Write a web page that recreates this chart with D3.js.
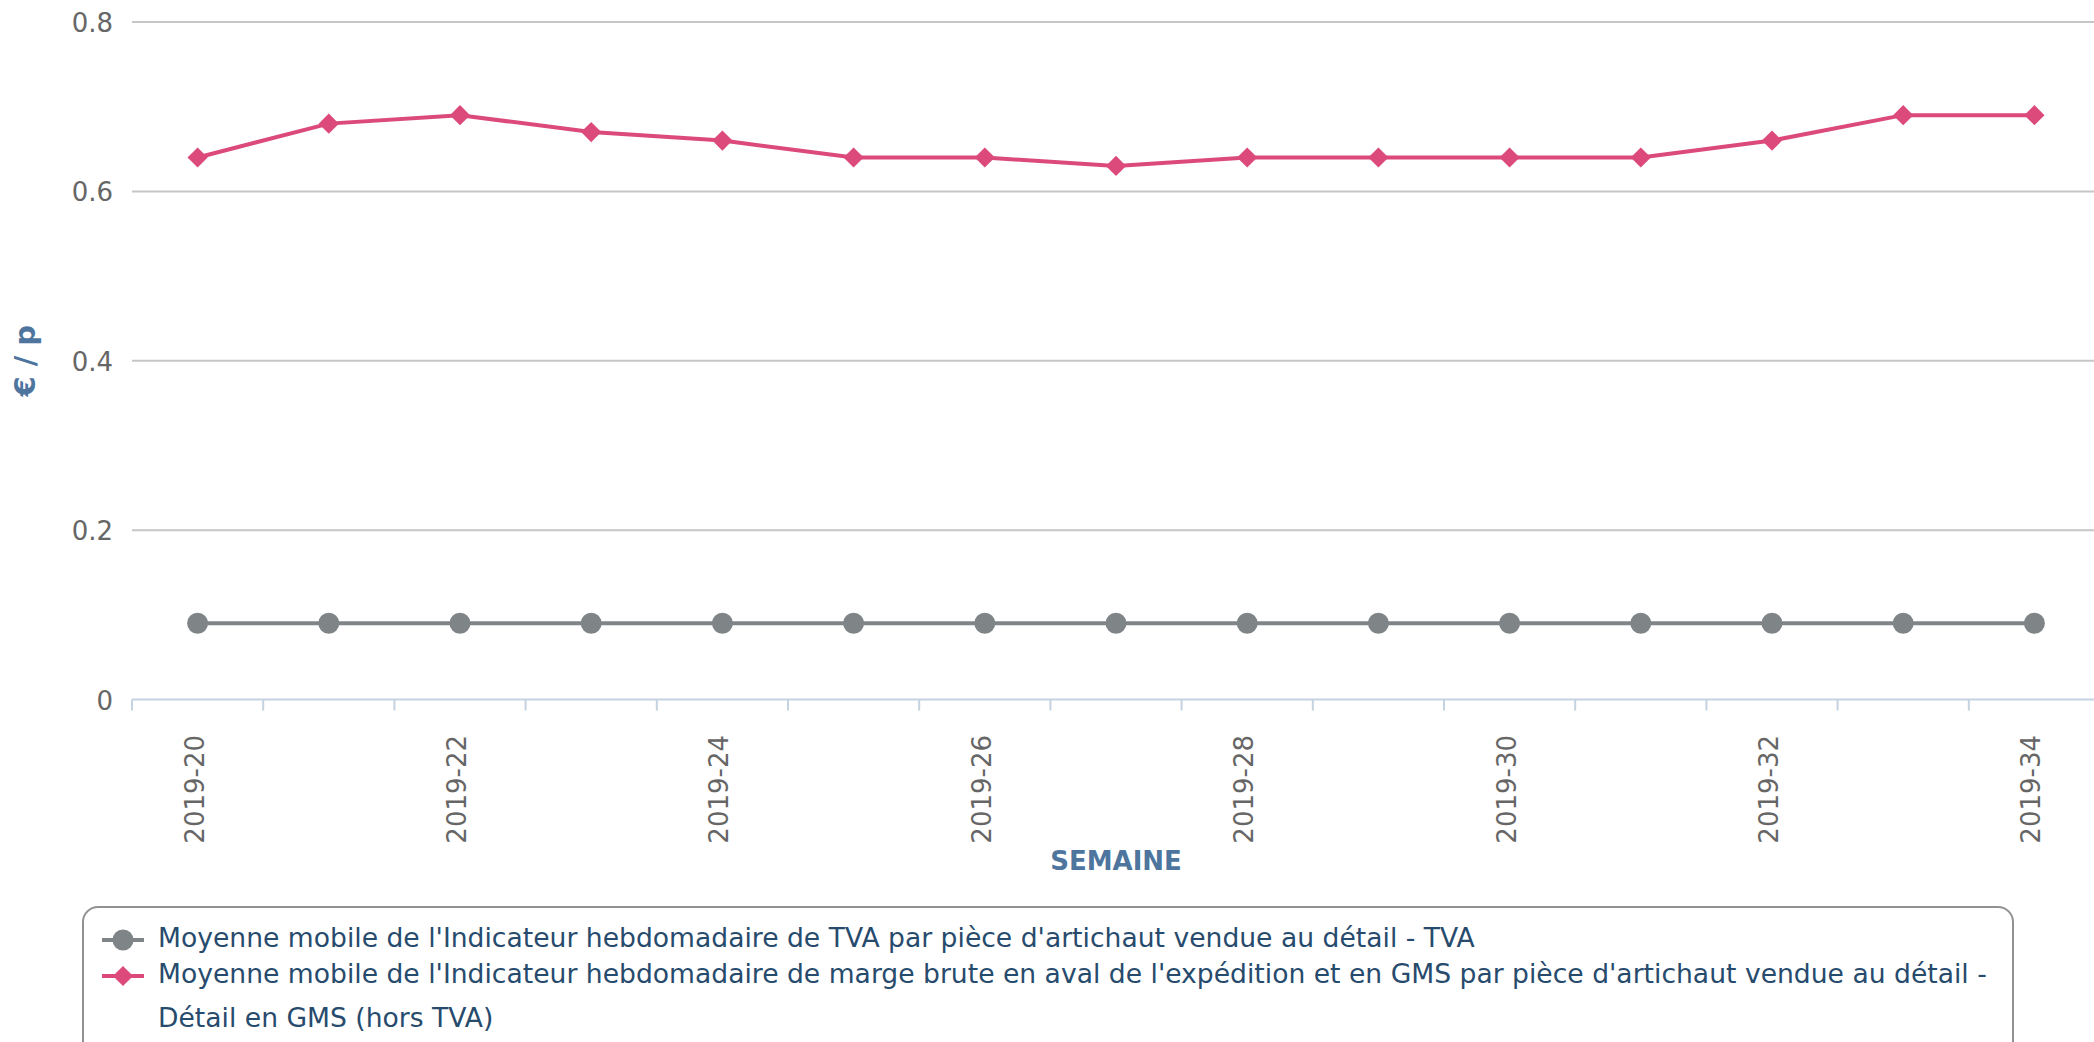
<!DOCTYPE html>
<html>
<head>
<meta charset="utf-8">
<script src="https://cdn.jsdelivr.net/npm/d3@7"></script>
<style>
  body { margin: 0; background: #fff; }
  svg { display: block; font-family: "DejaVu Sans", sans-serif; }
</style>
</head>
<body>
<svg id="chart" width="2094" height="1042"></svg>
<script>
var weeks = ["2019-20", "2019-21", "2019-22", "2019-23", "2019-24", "2019-25", "2019-26", "2019-27",
             "2019-28", "2019-29", "2019-30", "2019-31", "2019-32", "2019-33", "2019-34"];
var tva = [0.09, 0.09, 0.09, 0.09, 0.09, 0.09, 0.09, 0.09, 0.09, 0.09, 0.09, 0.09, 0.09, 0.09, 0.09];
var marge = [0.64, 0.68, 0.69, 0.67, 0.66, 0.64, 0.64, 0.63, 0.64, 0.64, 0.64, 0.64, 0.66, 0.69, 0.69];
var yTicks = [0, 0.2, 0.4, 0.6, 0.8];
var seriesNames = [
  ["Moyenne mobile de l'Indicateur hebdomadaire de TVA par pièce d'artichaut vendue au détail - TVA"],
  ["Moyenne mobile de l'Indicateur hebdomadaire de marge brute en aval de l'expédition et en GMS par pièce d'artichaut vendue au détail -",
   "Détail en GMS (hors TVA)"]
];

(function() {
var svg = d3.select("#chart");
var plotLeft = 132, plotRight = 2100, plotTop = 22, plotBottom = 699.5;

var x = d3.scaleBand().domain(weeks).range([plotLeft, plotRight]);
var y = d3.scaleLinear().domain([0, 0.8]).range([plotBottom, plotTop]);
var cx = function(d) { return x(d) + x.bandwidth() / 2; };

// grid lines
svg.append("g").selectAll("line")
  .data(yTicks.filter(function(t) { return t > 0; }))
  .enter().append("line")
  .attr("x1", plotLeft).attr("x2", 2094)
  .attr("y1", function(d) { return y(d); }).attr("y2", function(d) { return y(d); })
  .attr("stroke", "#c6c6c6").attr("stroke-width", 2);

// y labels
svg.append("g").selectAll("text")
  .data(yTicks).enter().append("text")
  .attr("x", 113).attr("y", function(d) { return y(d) + 10; })
  .attr("text-anchor", "end")
  .attr("font-size", 26).attr("fill", "#666")
  .text(function(d) { return d === 0 ? "0" : d3.format(".1f")(d); });

// x axis
svg.append("line")
  .attr("x1", plotLeft).attr("x2", 2094).attr("y1", plotBottom).attr("y2", plotBottom)
  .attr("stroke", "#c4d2e2").attr("stroke-width", 2);
svg.append("g").selectAll("line")
  .data(weeks).enter().append("line")
  .attr("x1", function(d) { return x(d); }).attr("x2", function(d) { return x(d); })
  .attr("y1", plotBottom).attr("y2", plotBottom + 11)
  .attr("stroke", "#c4d2e2").attr("stroke-width", 2);

svg.append("g").selectAll("text")
  .data(weeks.filter(function(d, i) { return i % 2 === 0; }))
  .enter().append("text")
  .attr("transform", function(d) { return "translate(" + (cx(d) + 6) + ",735) rotate(-90)"; })
  .attr("text-anchor", "end")
  .attr("font-size", 26).attr("fill", "#666")
  .text(function(d) { return d; });

// axis titles
svg.append("text")
  .attr("x", (plotLeft + plotRight) / 2).attr("y", 870)
  .attr("text-anchor", "middle").attr("font-weight", "bold")
  .attr("font-size", 26).attr("fill", "#4d759e")
  .text("SEMAINE");
svg.append("text")
  .attr("transform", "translate(35," + ((plotTop + plotBottom) / 2) + ") rotate(-90)")
  .attr("text-anchor", "middle").attr("font-weight", "bold")
  .attr("font-size", 29).attr("fill", "#4d759e")
  .text("€ / p");

// series
var line = d3.line().x(function(d, i) { return cx(weeks[i]); }).y(function(d) { return y(d); });
var diamond = d3.symbol().type(d3.symbolDiamond2).size(260);

svg.append("path").datum(tva)
  .attr("d", line).attr("fill", "none")
  .attr("stroke", "#7f8487").attr("stroke-width", 4);
svg.append("g").selectAll("circle")
  .data(tva).enter().append("circle")
  .attr("cx", function(d, i) { return cx(weeks[i]); })
  .attr("cy", function(d) { return y(d); })
  .attr("r", 10.5).attr("fill", "#7f8487");

svg.append("path").datum(marge)
  .attr("d", line).attr("fill", "none")
  .attr("stroke", "#db4a7a").attr("stroke-width", 4);
svg.append("g").selectAll("path.m")
  .data(marge).enter().append("path")
  .attr("class", "m")
  .attr("transform", function(d, i) { return "translate(" + cx(weeks[i]) + "," + y(d) + ")"; })
  .attr("d", diamond).attr("fill", "#db4a7a");

// legend
var lg = svg.append("g");
lg.append("rect")
  .attr("x", 83).attr("y", 907).attr("width", 1930).attr("height", 160)
  .attr("rx", 15).attr("fill", "#fff")
  .attr("stroke", "#919191").attr("stroke-width", 2);

var legendY = [940, 976];
var legendColors = ["#7f8487", "#db4a7a"];
seriesNames.forEach(function(lines, k) {
  lg.append("line")
    .attr("x1", 102).attr("x2", 144).attr("y1", legendY[k]).attr("y2", legendY[k])
    .attr("stroke", legendColors[k]).attr("stroke-width", 4);
  if (k === 0) {
    lg.append("circle").attr("cx", 123).attr("cy", legendY[k]).attr("r", 10.5).attr("fill", legendColors[k]);
  } else {
    lg.append("path").attr("transform", "translate(123," + legendY[k] + ")")
      .attr("d", diamond).attr("fill", legendColors[k]);
  }
  lines.forEach(function(t, j) {
    lg.append("text")
      .attr("x", 158).attr("y", legendY[k] + 7 + j * 44)
      .attr("font-size", 26.6).attr("fill", "#274b6d")
      .text(t);
  });
});
})();
</script>
</body>
</html>
